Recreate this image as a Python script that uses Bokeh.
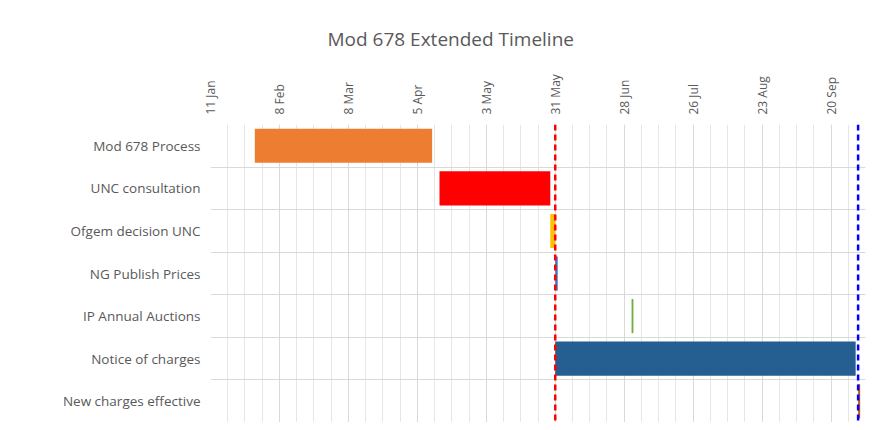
from datetime import datetime
from bokeh.plotting import figure
from bokeh.models import ColumnDataSource, Range1d, FixedTicker, Span
from bokeh.embed import file_html
from bokeh.resources import INLINE

# ---- data ----
tasks = ["Mod 678 Process", "UNC consultation", "Ofgem decision UNC",
         "NG Publish Prices", "IP Annual Auctions", "Notice of charges",
         "New charges effective"]
starts = [datetime(2021, 1, 29), datetime(2021, 4, 14), datetime(2021, 5, 29),
          datetime(2021, 5, 31), datetime(2021, 7, 1), datetime(2021, 5, 31),
          datetime(2021, 10, 1)]
ends = [datetime(2021, 4, 11), datetime(2021, 5, 29), datetime(2021, 5, 31),
        datetime(2021, 6, 1), datetime(2021, 7, 1, 18), datetime(2021, 9, 30),
        datetime(2021, 10, 1, 20)]
colors = ["#ED7D31", "#FF0000", "#FFC000", "#4472C4", "#70AD47", "#255E91", "#C55A11"]

tick_labels = ["11 Jan", "8 Feb", "8 Mar", "5 Apr", "3 May", "31 May",
               "28 Jun", "26 Jul", "23 Aug", "20 Sep"]
tick_dates = [datetime(2021, 1, 11), datetime(2021, 2, 8), datetime(2021, 3, 8),
              datetime(2021, 4, 5), datetime(2021, 5, 3), datetime(2021, 5, 31),
              datetime(2021, 6, 28), datetime(2021, 7, 26), datetime(2021, 8, 23),
              datetime(2021, 9, 20)]
axis_start = datetime(2021, 1, 11)
axis_end = datetime(2021, 10, 4)
milestone_red = datetime(2021, 5, 31)
milestone_blue = datetime(2021, 10, 1)

def ms(d):
    return (d - datetime(1970, 1, 1)).total_seconds() * 1000.0

DAY = 86400000.0
major = [ms(d) for d in tick_dates]
weeks = []
t = ms(axis_start)
while t <= ms(axis_end) + 1:
    weeks.append(t)
    t += 7 * DAY

src = ColumnDataSource(dict(
    y=[i + 0.5 for i in range(len(tasks))],
    left=starts, right=ends, color=colors))

p = figure(width=875, height=422, output_backend="svg", toolbar_location=None,
           x_axis_type="datetime", x_axis_location="above",
           x_range=Range1d(ms(axis_start), ms(axis_end)),
           y_range=Range1d(len(tasks), 0),
           min_border_left=210, min_border_right=10, min_border_top=124,
           min_border_bottom=0)
p.title.text = "Mod 678 Extended Timeline"
p.title.align = "left"
p.title.offset = 117
p.title.standoff = 40
p.title.text_font = "Open Sans"
p.title.text_font_size = "19px"
p.title.text_font_style = "normal"
p.title.text_color = "#595959"
p.outline_line_color = None

p.hbar(y="y", left="left", right="right", height=0.8, color="color", source=src,
       line_color=None)

xt = FixedTicker(ticks=major, minor_ticks=weeks)
p.xaxis.ticker = xt
p.xaxis.major_label_overrides = {m: lab for m, lab in zip(major, tick_labels)}
p.xaxis.major_label_orientation = "vertical"
p.xaxis.major_label_text_font = "Open Sans"
p.xaxis.major_label_text_font_size = "12px"
p.xaxis.major_label_text_color = "#595959"
p.xaxis.axis_line_color = None
p.xaxis.major_tick_line_color = None
p.xaxis.minor_tick_line_color = None
p.xaxis.major_tick_out = 0
p.xaxis.minor_tick_out = 0
p.xaxis.major_label_standoff = 10

p.xgrid.ticker = xt
p.xgrid.grid_line_color = "#D9D9D9"
p.xgrid.minor_grid_line_color = "#E6E6E6"

p.yaxis.ticker = FixedTicker(ticks=[i + 0.5 for i in range(len(tasks))])
p.yaxis.major_label_overrides = {i + 0.5: t for i, t in enumerate(tasks)}
p.yaxis.major_label_text_font = "Open Sans"
p.yaxis.major_label_text_font_size = "13.5px"
p.yaxis.major_label_text_color = "#595959"
p.yaxis.axis_line_color = None
p.yaxis.major_tick_line_color = None
p.yaxis.minor_tick_line_color = None
p.yaxis.major_tick_out = 0
p.yaxis.minor_tick_out = 0
p.yaxis.major_label_standoff = 10
p.ygrid.ticker = FixedTicker(ticks=list(range(len(tasks) + 1)))
p.ygrid.grid_line_color = "#D9D9D9"

p.add_layout(Span(location=ms(milestone_red), dimension="height", line_color="#FF0000",
                  line_dash="6 4", line_width=2.5))
p.add_layout(Span(location=ms(milestone_blue), dimension="height", line_color="#0000FF",
                  line_dash="6 4", line_width=2.5))

open("out.html", "w").write(file_html(p, INLINE))
